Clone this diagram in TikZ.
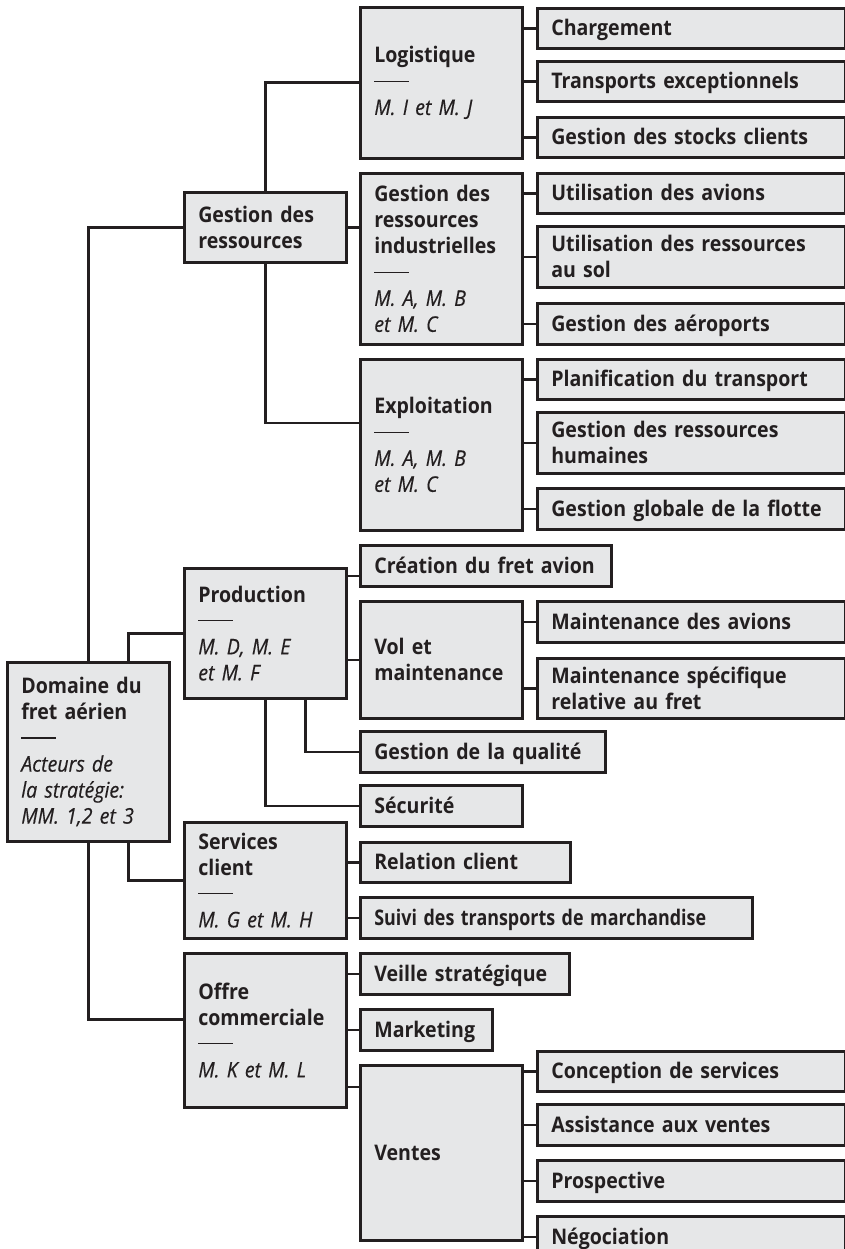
\documentclass[tikz,border=0pt]{standalone}
\usepackage{fontspec}
\setmainfont[FakeStretch=0.91,ItalicFeatures={FakeBold=0.4}]{Open Sans}
\usepackage{tikz}
\usetikzlibrary{positioning}
\definecolor{boxfill}{HTML}{E6E7E8}
\definecolor{ink}{HTML}{231F20}
\newcommand{\sep}{\rule[7pt]{35pt}{1.3pt}}
\newcommand{\who}[1]{{\mdseries\itshape #1}}
\tikzset{
    unit/.style={draw=ink, fill=boxfill, line width=2.6pt, anchor=north west,
        inner xsep=14pt, inner ysep=0pt, align=left, text=ink,
        font=\fontsize{21.5pt}{26pt}\selectfont\bfseries},
    leaf/.style={unit, text height=15pt, text depth=0pt},
    col/.style={text width=134pt},
    long/.style={text width=280pt},
    link/.style={draw=ink, line width=2.6pt}
}

\begin{document}
\begin{tikzpicture}[x=1pt,y=-1pt]
	\useasboundingbox (0,0) rectangle (845,1249);
	% root
	\node[unit,col,minimum height=179pt] (racine) at (6,661) {Domaine du\\fret aérien\\\sep\\\who{Acteurs de\\la stratégie:\\MM. 1,2 et 3}};
	% second column
	\node[unit,col,minimum height=70pt] (gdr) at (183,191) {Gestion des\\ressources};
	\node[unit,col,minimum height=130pt] (prod) at (183,567) {Production\\\sep\\\who{M. D, M. E\\et M. F}};
	\node[unit,col,minimum height=116pt] (serv) at (183,821) {Services\\client\\\sep\\\who{M. G et M. H}};
	\node[unit,col,minimum height=154pt] (offre) at (183,952) {Offre\\commerciale\\\sep\\\who{M. K et M. L}};
	% third column
	\node[unit,col,minimum height=151pt] (logi) at (359,6) {Logistique\\\sep\\\who{M. I et M. J}};
	\node[unit,col,minimum height=171pt] (gri) at (359,172) {Gestion des\\ressources\\industrielles\\\sep\\\who{M. A, M. B\\et M. C}};
	\node[unit,col,minimum height=171pt] (expl) at (359,358) {Exploitation\\\sep\\\who{M. A, M. B\\et M. C}};
	\node[leaf,text width=223pt,minimum height=41pt] (crea) at (359,544) {Création du fret avion};
	\node[unit,col,minimum height=117pt] (vol) at (359,600) {Vol et\\maintenance};
	\node[leaf,text width=217pt,minimum height=41pt] (qual) at (359,730) {Gestion de la qualité};
	\node[leaf,col,minimum height=41pt] (secu) at (359,784) {Sécurité};
	\node[leaf,text width=182pt,minimum height=40pt] (rel) at (359,841) {Relation client};
	\node[leaf,text width=364pt,minimum height=41pt] (suivi) at (359,896) {\scalebox{0.915}[1]{Suivi des transports de marchandise}};
	\node[leaf,text width=181pt,minimum height=41pt] (veille) at (359,952) {Veille stratégique};
	\node[leaf,text width=104pt,minimum height=41pt] (mark) at (359,1008) {Marketing};
	\node[unit,col,minimum height=175pt] (ventes) at (359,1064) {Ventes};
	% fourth column
	\node[leaf,long,minimum height=40pt] (charg) at (536,7) {Chargement};
	\node[leaf,long,minimum height=40pt] (transp) at (536,60) {Transports exceptionnels};
	\node[leaf,long,minimum height=40pt] (stocks) at (536,116) {Gestion des stocks clients};
	\node[leaf,long,minimum height=40pt] (avions) at (536,172) {Utilisation des avions};
	\node[unit,long,minimum height=61pt] (sol) at (536,225) {Utilisation des ressources\\au sol};
	\node[leaf,long,minimum height=41pt] (aero) at (536,302) {Gestion des aéroports};
	\node[leaf,long,minimum height=40pt] (plan) at (536,358) {Planification du transport};
	\node[unit,long,minimum height=61pt] (grh) at (536,411) {Gestion des ressources\\humaines};
	\node[leaf,long,minimum height=41pt] (flotte) at (536,487) {Gestion globale de la flotte};
	\node[leaf,long,minimum height=41pt] (mavions) at (536,600) {Maintenance des avions};
	\node[unit,long,minimum height=60pt] (mspec) at (536,657) {Maintenance spécifique\\relative au fret};
	\node[leaf,long,minimum height=40pt] (concep) at (536,1050) {Conception de services};
	\node[leaf,long,minimum height=41pt] (assist) at (536,1103) {Assistance aux ventes};
	\node[leaf,long,minimum height=41pt] (prosp) at (536,1159) {Prospective};
	\node[leaf,long,minimum height=41pt] (nego) at (536,1215) {Négociation};
	% links from the root
	\draw[link](racine.north) |- (gdr.west);
	\draw[link]([xshift=40pt]racine.north) |- (prod.west);
	\draw[link]([xshift=40pt]racine.south) |- (serv.west);
	\draw[link](racine.south) |- ([yshift=11pt]offre.west);
	% Gestion des ressources
	\draw[link](gdr.north) |- (logi.west);
	\draw[link](gdr.east) -- (gdr.east -| gri.west);
	\draw[link](gdr.south) |- ([yshift=22pt]expl.west);
	\draw[link](charg.west -| logi.east) -- (charg.west);
	\draw[link](transp.west -| logi.east) -- (transp.west);
	\draw[link](stocks.west -| logi.east) -- (stocks.west);
	\draw[link](avions.west -| gri.east) -- (avions.west);
	\draw[link](sol.west -| gri.east) -- (sol.west);
	\draw[link](aero.west -| gri.east) -- (aero.west);
	\draw[link](plan.west -| expl.east) -- (plan.west);
	\draw[link](grh.west -| expl.east) -- (grh.west);
	\draw[link](flotte.west -| expl.east) -- (flotte.west);
	% Production
	\draw[link]([yshift=-10pt]crea.west -| prod.east) -- ([yshift=-10pt]crea.west);
	\draw[link](vol.west -| prod.east) -- (vol.west);
	\draw[link](mavions.west -| vol.east) -- (mavions.west);
	\draw[link](mspec.west -| vol.east) -- (mspec.west);
	\draw[link]([xshift=40pt]prod.south) |- (qual.west);
	\draw[link](prod.south) |- (secu.west);
	% Services client
	\draw[link](rel.west -| serv.east) -- (rel.west);
	\draw[link](suivi.west -| serv.east) -- (suivi.west);
	% Offre commerciale
	\draw[link](veille.west -| offre.east) -- (veille.west);
	\draw[link](mark.west -| offre.east) -- (mark.west);
	\draw[link]([yshift=-23pt]ventes.north west -| offre.east) -- ([yshift=-23pt]ventes.north west);
	\draw[link](concep.west -| ventes.east) -- (concep.west);
	\draw[link](assist.west -| ventes.east) -- (assist.west);
	\draw[link](prosp.west -| ventes.east) -- (prosp.west);
	\draw[link](nego.west -| ventes.east) -- (nego.west);
\end{tikzpicture}
\end{document}
